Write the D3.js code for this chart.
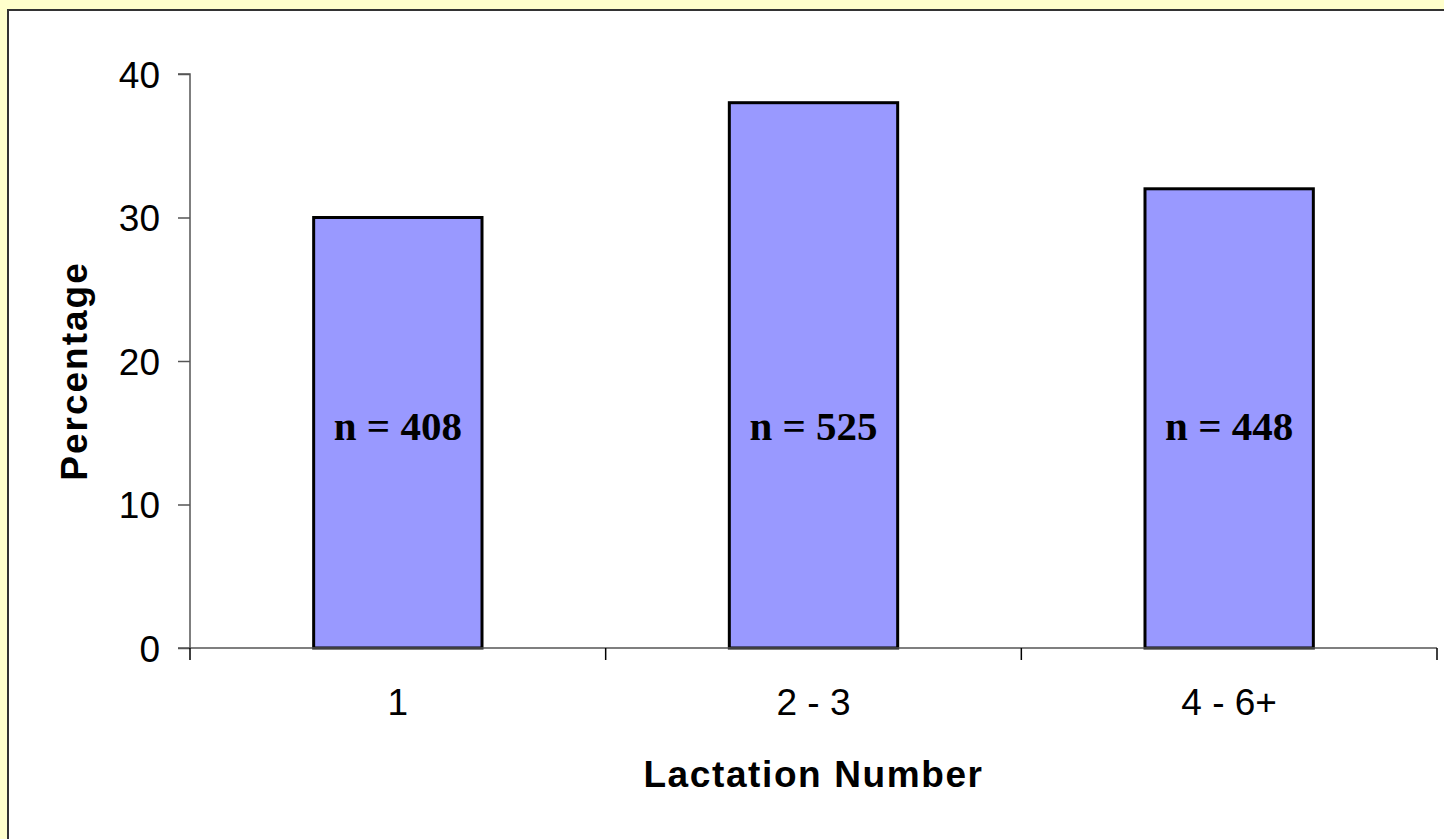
<!DOCTYPE html>
<html>
<head>
<meta charset="utf-8">
<script src="https://cdn.jsdelivr.net/npm/d3@7"></script>
<style>
  html, body { margin: 0; padding: 0; background: #ffffcc; }
  svg { display: block; }
</style>
</head>
<body>
<svg id="chart" width="1444" height="839"></svg>
<script>
const categories = ["1", "2 - 3", "4 - 6+"];
const values = [30, 38, 32];
const barLabels = ["n = 408", "n = 525", "n = 448"];
const yTicks = [0, 10, 20, 30, 40];
const labelValue = 14.5;
const xTitle = "Lactation Number";
const yTitle = "Percentage";

(function () {
const svg = d3.select("#chart");
const W = 1444, H = 839;

svg.append("rect").attr("x", 0).attr("y", 0).attr("width", W).attr("height", H).attr("fill", "#ffffcc");
svg.append("rect").attr("x", 8).attr("y", 10).attr("width", W + 10).attr("height", H + 10)
  .attr("fill", "#ffffff").attr("stroke", "#333333").attr("stroke-width", 2);

const pLeft = 190, pRight = 1437, pTop = 74, pBottom = 648;

const x = d3.scaleBand().domain(categories).range([pLeft, pRight]).paddingInner(0).paddingOuter(0);
const y = d3.scaleLinear().domain([0, 40]).range([pBottom, pTop]);

const barW = x.bandwidth() * 0.405;

svg.append("g").selectAll("rect").data(values).join("rect")
  .attr("x", (d, i) => x(categories[i]) + x.bandwidth() / 2 - barW / 2)
  .attr("y", d => y(d))
  .attr("width", barW)
  .attr("height", d => y(0) - y(d))
  .attr("fill", "#9999ff")
  .attr("stroke", "#000000")
  .attr("stroke-width", 3);

const yAxis = d3.axisLeft(y).tickValues(yTicks).tickSize(12).tickPadding(18).tickFormat(d3.format("d"));
const gy = svg.append("g").attr("transform", `translate(${pLeft},0)`).call(yAxis);
gy.select(".domain").attr("stroke", "#555555").attr("stroke-width", 1.5).attr("d", `M-12,${pTop}H0V${pBottom}`);
gy.selectAll(".tick line").attr("stroke", "#555555").attr("stroke-width", 1.5);
gy.selectAll(".tick text").attr("font-family", "Liberation Sans, Arial, sans-serif")
  .attr("font-size", 37).attr("fill", "#000").attr("dy", "0.36em");

const xAxis = d3.axisBottom(x).tickSize(0).tickPadding(0);
const gx = svg.append("g").attr("transform", `translate(0,${pBottom})`).call(xAxis);
gx.select(".domain").attr("stroke", "#555555").attr("stroke-width", 1.5).attr("d", `M${pLeft - 12},0H${pRight}`);
gx.selectAll(".tick text").attr("font-family", "Liberation Sans, Arial, sans-serif")
  .attr("font-size", 37).attr("fill", "#000").attr("dy", null).attr("y", 67);

const bounds = categories.map(c => x(c)).concat([x(categories[categories.length - 1]) + x.bandwidth()]);
svg.append("g").selectAll("line").data(bounds).join("line")
  .attr("x1", d => d).attr("x2", d => d)
  .attr("y1", pBottom).attr("y2", pBottom + 12)
  .attr("stroke", "#000000").attr("stroke-width", 1.5);

svg.append("g").selectAll("text").data(barLabels).join("text")
  .attr("x", (d, i) => x(categories[i]) + x.bandwidth() / 2)
  .attr("y", y(labelValue))
  .attr("text-anchor", "middle")
  .attr("font-family", "Liberation Serif, Times New Roman, serif")
  .attr("font-weight", "bold")
  .attr("font-size", 41)
  .attr("fill", "#000")
  .text(d => d);

svg.append("text")
  .attr("x", (pLeft + pRight) / 2).attr("y", 787)
  .attr("text-anchor", "middle")
  .attr("font-family", "Liberation Sans, Arial, sans-serif")
  .attr("font-weight", "bold").attr("font-size", 37)
  .attr("letter-spacing", 1.6)
  .text(xTitle);

svg.append("text")
  .attr("transform", `translate(87,${(262 + 480) / 2}) rotate(-90)`)
  .attr("text-anchor", "middle")
  .attr("font-family", "Liberation Sans, Arial, sans-serif")
  .attr("font-weight", "bold").attr("font-size", 37)
  .attr("letter-spacing", 2)
  .text(yTitle);
})();
</script>
</body>
</html>
